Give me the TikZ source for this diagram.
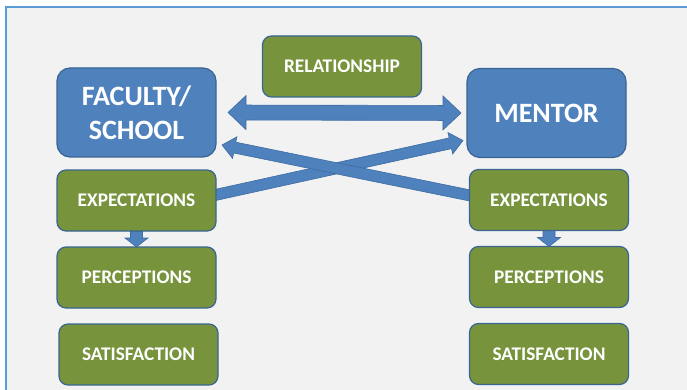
\documentclass[tikz,border=0pt]{standalone}
\usepackage{fontspec}
\setmainfont{Carlito}
\usetikzlibrary{calc, positioning}

\definecolor{panelgray}{HTML}{F2F2F2}
\definecolor{panelline}{HTML}{5B9BD5}
\definecolor{partyblue}{HTML}{4F81BD}
\definecolor{measuregreen}{HTML}{77933C}
\definecolor{boxline}{HTML}{3A6592}
\definecolor{linkblue}{HTML}{4F81BD}
\definecolor{linkline}{HTML}{3D6BA3}

\pgfdeclarelayer{back}
\pgfsetlayers{back,main}

\tikzset{
    box/.style = {
      draw=boxline, line width=1.2pt, text=white, align=center,
      inner sep=0, outer sep=0, minimum width=159pt,
    },
    party/.style = {
      box, fill=partyblue, rounded corners=13pt, minimum height=89pt,
      font=\bfseries\fontsize{28}{34}\selectfont,
    },
    measure/.style = {
      box, fill=measuregreen, rounded corners=9pt, minimum height=61pt,
      font=\bfseries\fontsize{19.3}{23}\selectfont,
    },
    panel/.style = {fill=panelgray, draw=panelline, line width=2pt},
    fat arrow/.style = {fill=linkblue, draw=linkline, line width=0.6pt},
}

\newcommand{\fatarrow}[5]{%
  %% Block arrow from #1 to #2:
  %%    3. half width of the shaft
  %%    4. half width of the head
  %%    5. length of the head
  \coordinate (base) at ($(#2)!#5!(#1)$);
  \draw [fat arrow] ($(#1)!#3!90:(#2)$) -- ($(base)!#3!90:(#2)$)
    -- ($(base)!#4!90:(#2)$) -- (#2) -- ($(base)!#4!-90:(#2)$)
    -- ($(base)!#3!-90:(#2)$) -- ($(#1)!#3!-90:(#2)$) -- cycle;
}
\newcommand{\fatdoublearrow}[5]{%
  %% Same, with a head at both ends
  \coordinate (base a) at ($(#1)!#5!(#2)$);
  \coordinate (base b) at ($(#2)!#5!(#1)$);
  \draw [fat arrow] (#1) -- ($(base a)!#4!90:(#2)$) -- ($(base a)!#3!90:(#2)$)
    -- ($(base b)!#3!90:(#2)$) -- ($(base b)!#4!90:(#2)$) -- (#2)
    -- ($(base b)!#4!-90:(#2)$) -- ($(base b)!#3!-90:(#2)$)
    -- ($(base a)!#3!-90:(#2)$) -- ($(base a)!#4!-90:(#2)$) -- cycle;
}

\begin{document}
\begin{tikzpicture}[x=1pt, y=-1pt]
  \clip (0,0) rectangle (687,390);

  %% The two parties and what links them
  \node [party] (faculty) at (136.5,112.5) {FACULTY/\\SCHOOL};
  \node [party] (mentor) at (546.5,113) {MENTOR};
  \node [measure] (relation) at (342,66.5) {RELATIONSHIP};

  %% Left column
  \node [measure, below=13pt of faculty] (facexp) {EXPECTATIONS};
  \node [measure, below=16pt of facexp] (facperc) {PERCEPTIONS};
  \node [measure, below=16pt of facperc, xshift=2pt] (facsat) {SATISFACTION};

  %% Right column
  \node [measure, below=12pt of mentor, xshift=2.5pt] (mentexp) {EXPECTATIONS};
  \node [measure, below=16pt of mentexp] (mentperc) {PERCEPTIONS};
  \node [measure, below=16pt of mentperc] (mentsat) {SATISFACTION};

  %% Arrow ends
  \coordinate (rel left) at ([xshift=12pt] faculty.east);
  \coordinate (rel right) at ([xshift=-6pt] mentor.west);
  \coordinate (from facexp) at ([shift={(-3,-5)}] facexp.east);
  \coordinate (to mentor) at ([shift={(-4,-17)}] mentor.south west);
  \coordinate (from mentexp) at ([shift={(3,-4)}] mentexp.west);
  \coordinate (to faculty) at ([shift={(6,-12)}] faculty.south east);

  \begin{pgfonlayer}{back}
    \draw [panel] (6,7) rectangle (720,420);

    \fatdoublearrow{rel left}{rel right}{7.5pt}{17pt}{18pt}
    \fatarrow{from facexp}{to mentor}{5.5pt}{11pt}{13pt}
    \fatarrow{from mentexp}{to faculty}{5.5pt}{11pt}{13pt}

    %% Expectations feed perceptions
    \fatarrow{facexp.south}{facperc.north}{6pt}{11.5pt}{9pt}
    \fatarrow{mentexp.south}{mentperc.north}{6pt}{11.5pt}{9pt}
  \end{pgfonlayer}
\end{tikzpicture}
\end{document}
